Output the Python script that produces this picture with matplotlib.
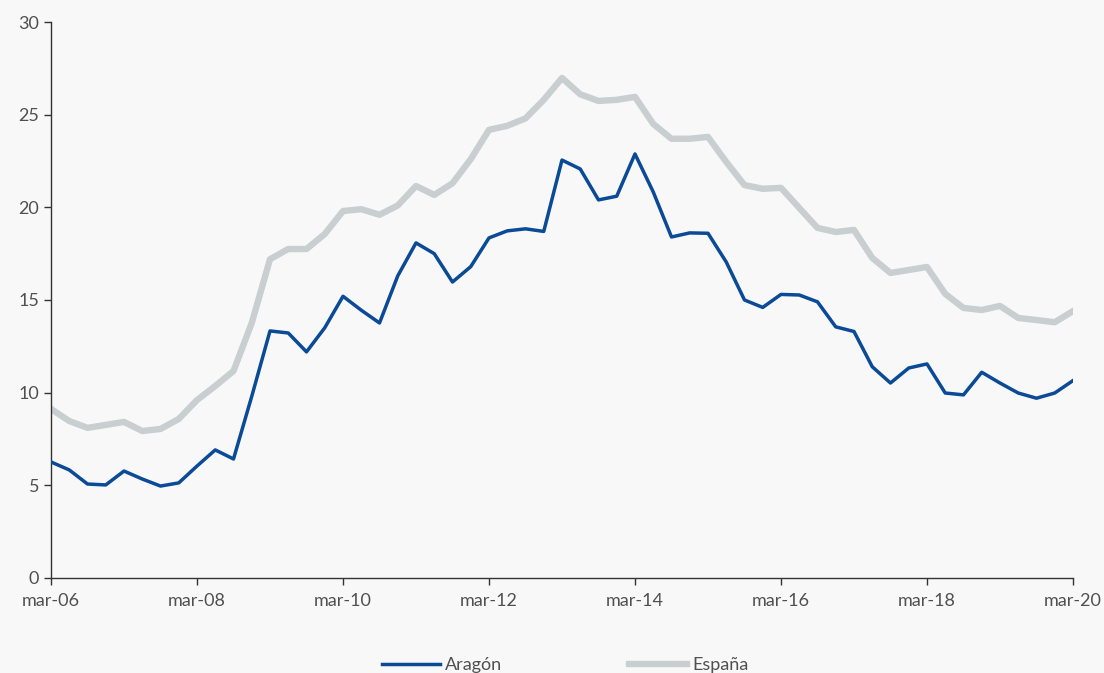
import matplotlib
matplotlib.use('Agg')
import matplotlib.pyplot as plt

# quarterly series, mar-06 .. mar-20
aragon = [6.26, 5.83, 5.07, 5.02, 5.77, 5.34, 4.96, 5.13, 6.04, 6.91,
          6.42, 9.8, 13.33, 13.22, 12.2, 13.5, 15.2, 14.45, 13.76, 16.3,
          18.08, 17.5, 15.97, 16.8, 18.35, 18.73, 18.84, 18.7, 22.55, 22.07,
          20.4, 20.6, 22.88, 20.83, 18.4, 18.62, 18.6, 17.05, 15.0, 14.6,
          15.3, 15.27, 14.9, 13.55, 13.3, 11.4, 10.52, 11.33, 11.55, 9.98,
          9.88, 11.1, 10.52, 9.98, 9.7, 9.98, 10.65]
espana = [9.12, 8.47, 8.1, 8.26, 8.42, 7.93, 8.04, 8.58, 9.6, 10.36,
          11.17, 13.76, 17.2, 17.75, 17.75, 18.56, 19.8, 19.9, 19.6, 20.1,
          21.15, 20.67, 21.3, 22.6, 24.18, 24.4, 24.8, 25.8, 26.98, 26.1,
          25.74, 25.8, 25.96, 24.5, 23.7, 23.7, 23.8, 22.45, 21.2, 21.0,
          21.05, 19.97, 18.89, 18.67, 18.78, 17.27, 16.46, 16.62, 16.78, 15.33,
          14.57, 14.46, 14.68, 14.03, 13.92, 13.8, 14.4]
tick_labels = ['mar-06', 'mar-08', 'mar-10', 'mar-12', 'mar-14',
               'mar-16', 'mar-18', 'mar-20']

plt.rcParams['font.family'] = ['Lato', 'DejaVu Sans']

bg = '#f8f8f8'
text_col = '#505050'
fig = plt.figure(figsize=(11.04, 6.73), dpi=100, facecolor=bg)
ax = fig.add_axes([0.0462, 0.1412, 0.9257, 0.8261], facecolor=bg)

x = list(range(len(aragon)))
ax.plot(x, aragon, color='#0a4a96', lw=2.5, label='Aragón',
        solid_joinstyle='round', zorder=3)
ax.plot(x, espana, color='#c9ced1', lw=4.6, label='España',
        solid_joinstyle='round', zorder=2)

ax.set_xlim(0, len(aragon) - 1)
ax.set_ylim(0, 30)
ax.set_yticks(range(0, 31, 5))
ax.set_xticks(range(0, len(aragon), 8))
ax.set_xticklabels(tick_labels)

for s in ['top', 'right']:
    ax.spines[s].set_visible(False)
for s in ['left', 'bottom']:
    ax.spines[s].set_color('#333333')
    ax.spines[s].set_linewidth(1.0)
ax.tick_params(axis='both', colors='#333333', labelcolor=text_col,
               labelsize=13, length=5, width=1.0)
ax.tick_params(axis='x', pad=6)

handles, labels = ax.get_legend_handles_labels()
leg = fig.legend(handles, labels, loc='lower center', ncol=2,
                 bbox_to_anchor=(0.512, -0.024), frameon=False, fontsize=13,
                 handlelength=3.2, handletextpad=0.3, columnspacing=7.0)
for t in leg.get_texts():
    t.set_color(text_col)

fig.savefig('out.png', dpi=100, facecolor=bg)
